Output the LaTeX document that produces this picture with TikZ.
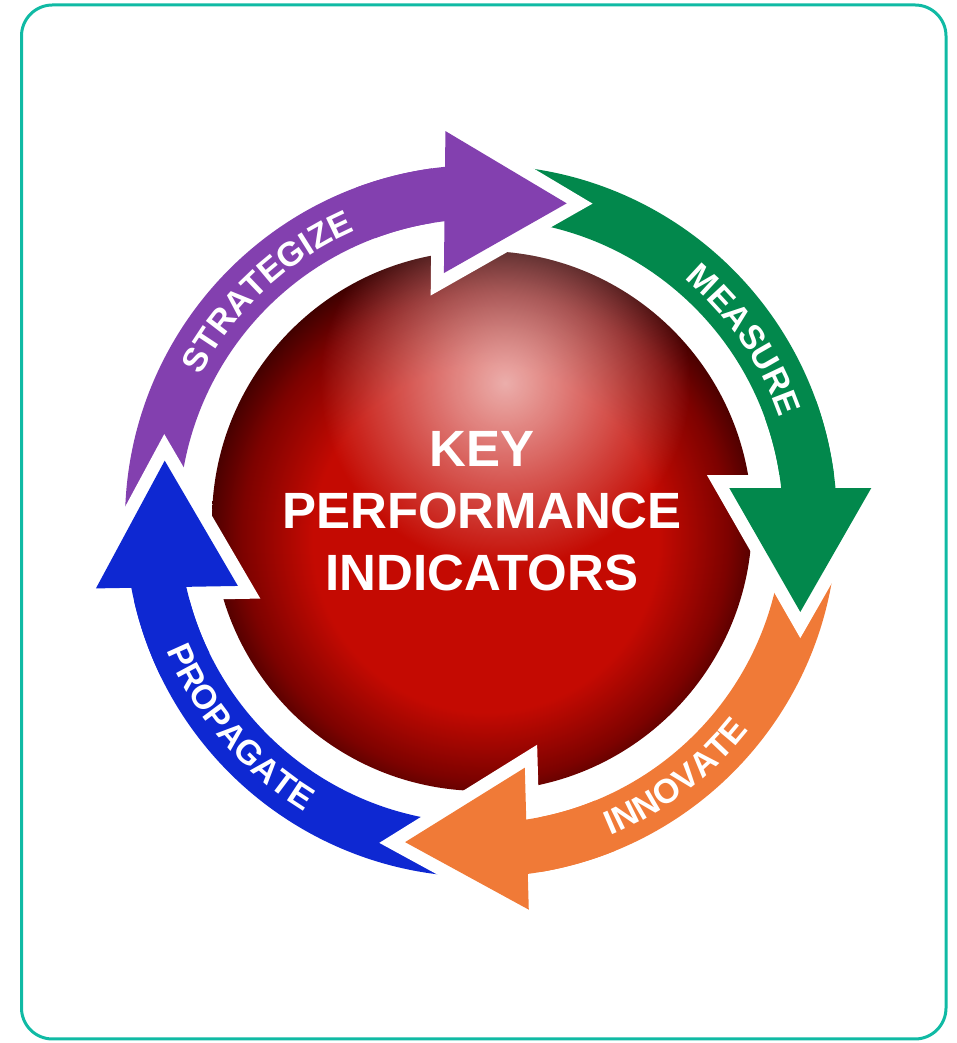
\documentclass[tikz,border=0pt]{standalone}
\usepackage{fontspec}
\setmainfont{Liberation Sans}
\usetikzlibrary{calc,decorations.text,fadings}
\definecolor{kpurple}{RGB}{131,64,175}
\definecolor{kgreen}{RGB}{2,136,76}
\definecolor{korange}{RGB}{240,122,55}
\definecolor{kblue}{RGB}{14,40,210}
\definecolor{kteal}{RGB}{16,186,164}
\definecolor{kred}{RGB}{196,10,2}
\definecolor{kmid}{RGB}{125,2,0}
\definecolor{kdark}{RGB}{40,0,0}
\pgfdeclareradialshading{sph}{\pgfpoint{0.5bp}{-2.5bp}}{color(0bp)=(kred); color(16bp)=(kred); color(22.5bp)=(kmid); color(27.5bp)=(kdark); color(30.5bp)=(black); color(50bp)=(black)}
\pgfdeclareradialshading{hlshade}{\pgfpointorigin}{color(0bp)=(black!33); color(5bp)=(black!46); color(25bp)=(black); color(50bp)=(black)}
\pgfdeclarefading{hlfade}{\pgfuseshading{hlshade}}
\newcommand\arcfont{\fontsize{34}{34}\selectfont\bfseries}
\newcommand\kpifont{\fontsize{51}{62}\selectfont\bfseries}
% shaft: colour, start angle, end angle
\newcommand\kshaft[3]{%
  \fill[#1] ($(C)+(#2:356)$) arc[start angle=#2, end angle=#3, radius=356]
    -- ($(C)+(#3:302)$) arc[start angle=#3, end angle=#2, radius=302] -- cycle;}
% head: name, colour, tip angle, tip radius, base angle
\newcommand\khead[5]{%
  \coordinate (#1T) at ($(C)+(#3:#4)$);
  \coordinate (#1B) at ($(C)+(#5:321)$);
  \coordinate (#1L) at ($(#1B)!71pt!90:(#1T)$);
  \coordinate (#1R) at ($(#1B)!71pt!-90:(#1T)$);
  \draw[white, line width=26pt, line join=miter] (#1L) -- (#1T) -- (#1R) -- cycle;
  \kshaft{#2}{#5+14}{#5-3}
  \fill[#2] (#1L) -- (#1T) -- (#1R) -- cycle;}
\tikzset{arclabel/.style={decorate, decoration={text along path, text={|\arcfont|#1}, text align=center, text color=white}}}
\begin{document}
\begin{tikzpicture}[x=1pt,y=1pt]
\useasboundingbox (0,0) rectangle (956,1043);
\coordinate (C) at (481,522);
\coordinate (S) at (482,522);
\coordinate (H) at (505,660);
\draw[kteal, line width=3pt, rounded corners=31pt] (21.5,4) rectangle (946,1038);
% sphere
\shade[shading=sph] (S) circle[radius=270];
\begin{scope}
  \clip (S) circle[radius=270];
  \fill[white, path fading=hlfade] (H) circle[radius=185];
\end{scope}
% shafts
\kshaft{kpurple}{181.2}{93.5}
\kshaft{kgreen}{86.9}{2.9}
\kshaft{korange}{-3.9}{-84.8}
\kshaft{kblue}{268.7}{188.9}
% heads
\khead{P}{kpurple}{74.9}{329}{96.5}
\khead{G}{kgreen}{-15.9}{332}{5.9}
\khead{O}{korange}{-103.3}{330}{-81.8}
\khead{B}{kblue}{169.2}{322}{191.9}
% labels
\path[arclabel=STRATEGIZE] ($(C)+(153:316)$) arc[start angle=153, end angle=113, radius=316];
\path[arclabel=MEASURE] ($(C)+(54.5:316)$) arc[start angle=54.5, end angle=14.5, radius=316];
\path[arclabel=INNOVATE] ($(C)+(-72.8:340)$) arc[start angle=-72.8, end angle=-32.8, radius=340];
\path[arclabel=PROPAGATE] ($(C)+(200.5:340)$) arc[start angle=200.5, end angle=240.5, radius=340];
\node[text=white, font=\kpifont, align=center, inner sep=0pt] (kpi) at (482,532) {KEY\\PERFORMANCE\\INDICATORS};
\end{tikzpicture}
\end{document}
